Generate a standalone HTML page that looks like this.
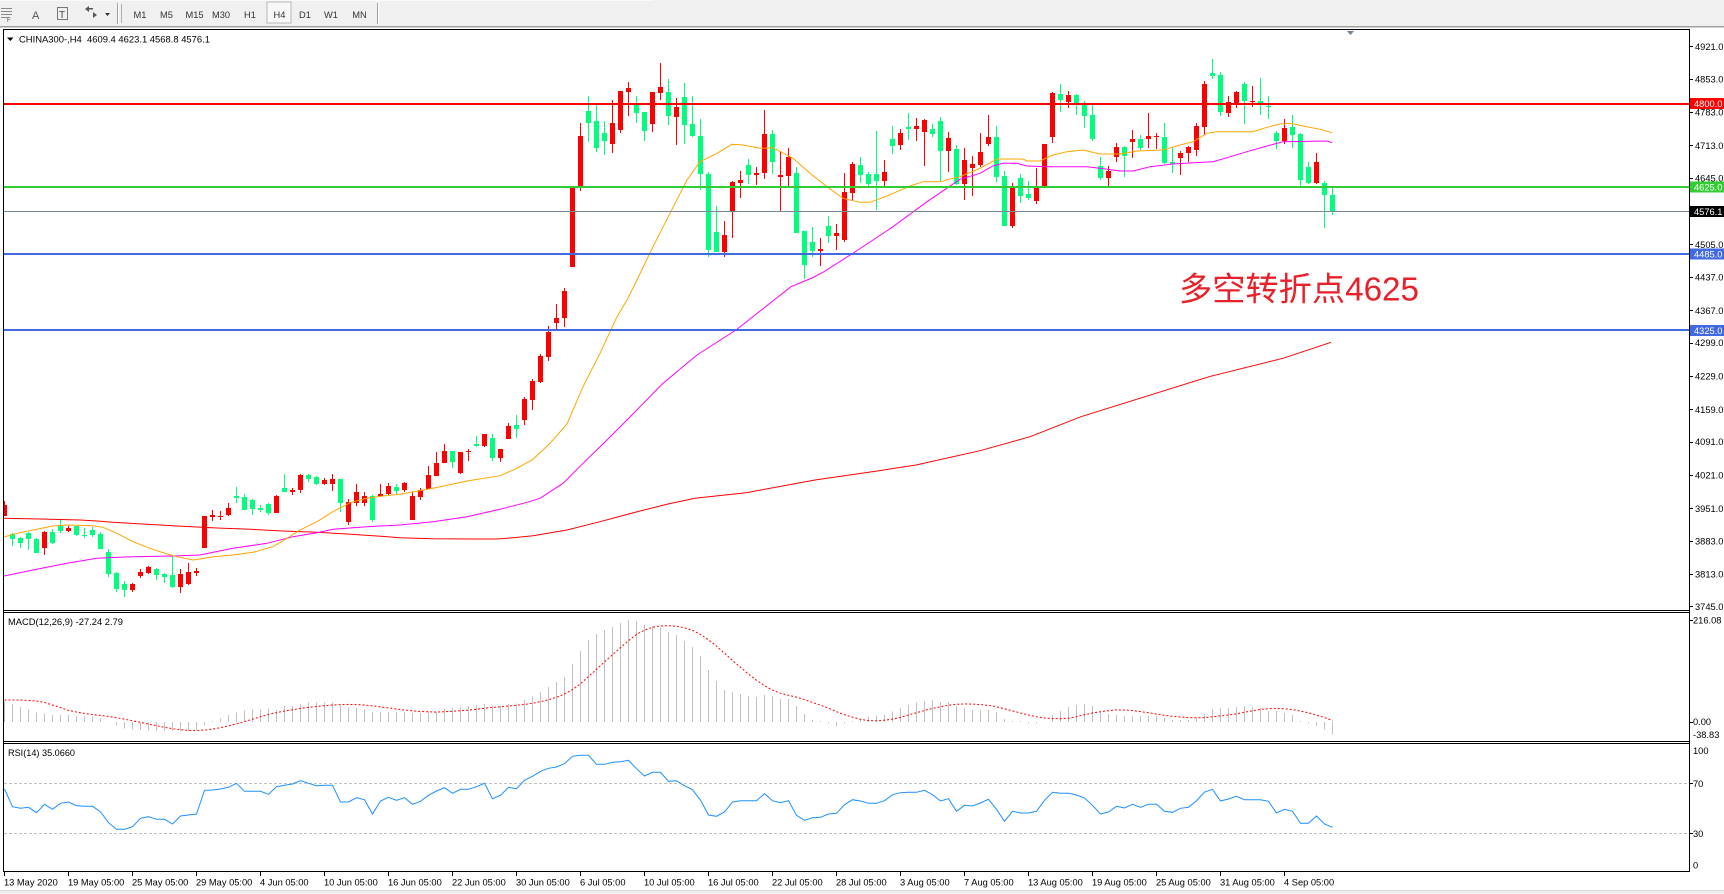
<!DOCTYPE html>
<html><head><meta charset="utf-8">
<style>
html,body{margin:0;padding:0;background:#fff;width:1724px;height:894px;overflow:hidden}
svg{display:block}
text{font-family:"Liberation Sans","DejaVu Sans",sans-serif}
</style></head><body>
<svg id="s" width="1724" height="894" viewBox="0 0 1724 894" xmlns="http://www.w3.org/2000/svg">
<defs>
<clipPath id="cm"><rect x="4" y="30" width="1685" height="580"/></clipPath>
<clipPath id="cd"><rect x="4" y="613" width="1685" height="128"/></clipPath>
<clipPath id="cr"><rect x="4" y="744" width="1685" height="127"/></clipPath>
</defs>
<!-- toolbar -->
<rect x="0" y="0" width="1724" height="26" fill="#F0F0F0"/>
<rect x="0" y="0" width="654" height="1" fill="#FAFAFA"/>
<rect x="0" y="26" width="1724" height="1" fill="#A0A0A0"/>
<rect x="0" y="27" width="1724" height="1" fill="#D0D0D0"/>
<g shape-rendering="crispEdges">
<rect x="1" y="8" width="11" height="1" fill="#8a8a8a"/>
<rect x="1" y="11" width="11" height="1" fill="#8a8a8a"/>
<rect x="1" y="14" width="11" height="1" fill="#8a8a8a"/>
<rect x="1" y="17" width="8" height="1" fill="#8a8a8a"/>
<rect x="57" y="7" width="11" height="1" fill="#777"/>
<rect x="57" y="19" width="11" height="1" fill="#777"/>
<rect x="57" y="7" width="1" height="13" fill="#777"/>
<rect x="67" y="7" width="1" height="13" fill="#777"/>
<rect x="117" y="3" width="1" height="21" fill="#A0A0A0"/>
<rect x="118" y="3" width="1" height="21" fill="#FFFFFF"/>
<rect x="121" y="4" width="1" height="19" fill="#B0B0B0"/>
<rect x="377" y="3" width="1" height="21" fill="#A0A0A0"/>
<rect x="378" y="3" width="1" height="21" fill="#FFFFFF"/>
<rect x="267" y="2" width="24" height="21" fill="#F8F8F8" stroke="#B8B8B8" stroke-width="1"/>
</g>
<text x="7" y="22" font-size="6" fill="#555">F</text>
<text x="32" y="19" font-size="11" fill="#555">A</text>
<text x="59" y="18" font-size="10" fill="#444">T</text>
<path d="M85 9 L89 6 L89 12 Z M97 15 L93 12 L93 18 Z" fill="#555"/>
<rect x="88" y="8" width="5" height="1.5" fill="#555"/>
<path d="M105 13 L110 13 L107.5 16 Z" fill="#333"/>
<g font-size="9.3" fill="#333" text-anchor="middle">
<text x="140" y="18">M1</text>
<text x="166.5" y="18">M5</text>
<text x="194.5" y="18">M15</text>
<text x="221" y="18">M30</text>
<text x="250" y="18">H1</text>
<text x="279.5" y="18">H4</text>
<text x="305" y="18">D1</text>
<text x="331" y="18">W1</text>
<text x="359.5" y="18">MN</text>
</g>

<!-- main chart content -->
<g clip-path="url(#cm)">
<g id="candles" shape-rendering="crispEdges"></g>
<g fill="none" stroke-width="1">
<polyline stroke="#FF0000" points="4,518.3 40,519 80,520 97,521 113,522.3 160,525 177,526 217,528 250,529.3 283,531 317,532.3 347,534 377,536 400,537.7 433,538.7 473,539 497,539 507,538.3 533,535.7 567,530 600,521.7 640,511 668,504 695,498.3 746,492.7 815,480 879,470.7 916,465 980,450.7 1030,436.7 1081,416.7 1145,396.7 1209,376.7 1283,358.3 1331,342.3"/>
<polyline stroke="#FF00FF" points="4,576 33,570 67,563.3 97,558.3 133,556.7 173,556 200,555 233,548.3 267,543.3 293,536.7 317,532.7 333,529.3 367,526.7 400,525 433,521.7 467,516.7 500,509.3 527,502.3 540,498.3 563,483.3 583,463.3 607,440 627,420 640,406.7 663,383.3 697,355 736,330 791,286.7 812,278 824,271.7 858,250 893,226.7 927,201.7 960,179.3 980,173.3 993,166 1003,163.3 1017,163.3 1027,166 1047,166.7 1087,166.7 1100,168.3 1120,171 1133,171 1150,166.7 1173,164 1193,162.7 1213,161.7 1227,157.7 1247,151.7 1267,146 1283,141.7 1327,141 1332,142.7"/>
<polyline stroke="#FFA500" points="4,537 13,534.3 33,530 53,526 67,525 93,525.7 103,527.3 117,533.3 133,541.7 150,548.3 167,554 177,556.7 193,560 200,559 213,556.7 233,555 253,552.3 273,546.7 287,538.3 300,530 317,521.7 333,511.7 350,502.7 367,498.3 383,496 400,494.3 433,488.3 467,481 500,475.7 517,468.3 533,459.3 550,443.3 567,424 583,386.7 600,353.3 617,316.7 627,300 637,280 653,246.7 670,213.3 687,180 700,161.7 717,153.3 732,144.3 743,145 760,148.3 773,147.7 793,158.3 810,173.3 827,186.7 843,198.3 860,202.3 870,202.3 887,196 910,186 923,181.7 940,181.7 953,178.3 960,176.7 980,168.3 997,159 1023,159 1027,161 1040,161 1053,155 1067,151.7 1083,150 1100,154 1120,154 1137,151 1163,150 1180,145 1193,141.7 1207,133.3 1217,131.7 1253,131.7 1267,127.3 1280,124 1290,123.3 1303,126 1320,129.3 1332,132.7"/>
</g>
<g shape-rendering="crispEdges">
<rect x="4" y="103" width="1685" height="2" fill="#FF0000"/>
<rect x="4" y="186" width="1685" height="2" fill="#32CD32"/>
<rect x="4" y="211" width="1685" height="1" fill="#778899"/>
<rect x="4" y="253" width="1685" height="2" fill="#4169E1"/>
<rect x="4" y="329" width="1685" height="2" fill="#4169E1"/>
</g>
</g>
<text x="1179" y="300.5" font-size="33" fill="#E8202A" textLength="240" lengthAdjust="spacingAndGlyphs" style="font-family:'Liberation Sans','Noto Sans CJK SC',sans-serif">多空转折点4625</text>
<path d="M1347 31 L1354 31 L1350.5 35 Z" fill="#708090"/>
<path d="M7 37.5 L13.5 37.5 L10.25 41 Z" fill="#000"/>
<text x="19" y="42.5" font-size="9.3" fill="#000" textLength="191" lengthAdjust="spacingAndGlyphs" style="white-space:pre">CHINA300-,H4  4609.4 4623.1 4568.8 4576.1</text>

<!-- MACD -->
<g clip-path="url(#cd)">
<g id="hist" shape-rendering="crispEdges"></g>
<polyline id="sig" fill="none" stroke="#FF0000" stroke-width="1" stroke-dasharray="2,2" points=""/>
</g>
<text x="8" y="625" font-size="9.3" fill="#000" textLength="115" lengthAdjust="spacingAndGlyphs">MACD(12,26,9) -27.24 2.79</text>

<!-- RSI -->
<g clip-path="url(#cr)">
<g shape-rendering="crispEdges">
<line x1="4" y1="783.5" x2="1689" y2="783.5" stroke="#C0C0C0" stroke-dasharray="3,2"/>
<line x1="4" y1="833.5" x2="1689" y2="833.5" stroke="#C0C0C0" stroke-dasharray="3,2"/>
</g>
<polyline id="rsi" fill="none" stroke="#1E90FF" stroke-width="1" points=""/>
</g>
<text x="8" y="756" font-size="9.3" fill="#000" textLength="67" lengthAdjust="spacingAndGlyphs">RSI(14) 35.0660</text>

<!-- frames -->
<g shape-rendering="crispEdges" fill="#000">
<rect x="3" y="29" width="1687" height="1"/>
<rect x="3" y="29" width="1" height="843"/>
<rect x="1689" y="29" width="1" height="843"/>
<rect x="3" y="610" width="1687" height="1"/>
<rect x="3" y="612" width="1687" height="1"/>
<rect x="3" y="741" width="1687" height="1"/>
<rect x="3" y="743" width="1687" height="1"/>
<rect x="3" y="871" width="1687" height="1"/>
</g>
<rect x="0" y="890" width="1724" height="4" fill="#F0F0F0"/>
<rect x="0" y="890" width="1724" height="1" fill="#D8D8D8"/>

<!-- price axis ticks -->
<g shape-rendering="crispEdges" stroke="#000" stroke-width="1">
<line x1="1689" y1="46.5" x2="1693" y2="46.5"/><line x1="1689" y1="79.5" x2="1693" y2="79.5"/>
<line x1="1689" y1="112.5" x2="1693" y2="112.5"/><line x1="1689" y1="145.5" x2="1693" y2="145.5"/>
<line x1="1689" y1="178.5" x2="1693" y2="178.5"/><line x1="1689" y1="244.5" x2="1693" y2="244.5"/>
<line x1="1689" y1="277.5" x2="1693" y2="277.5"/><line x1="1689" y1="310.5" x2="1693" y2="310.5"/>
<line x1="1689" y1="343.5" x2="1693" y2="343.5"/><line x1="1689" y1="376.5" x2="1693" y2="376.5"/>
<line x1="1689" y1="409.5" x2="1693" y2="409.5"/><line x1="1689" y1="442.5" x2="1693" y2="442.5"/>
<line x1="1689" y1="475.5" x2="1693" y2="475.5"/><line x1="1689" y1="508.5" x2="1693" y2="508.5"/>
<line x1="1689" y1="541.5" x2="1693" y2="541.5"/><line x1="1689" y1="574.5" x2="1693" y2="574.5"/>
<line x1="1689" y1="606.5" x2="1693" y2="606.5"/>
<line x1="1689" y1="620.5" x2="1693" y2="620.5"/><line x1="1689" y1="722.5" x2="1693" y2="722.5"/>
<line x1="1689" y1="783.5" x2="1693" y2="783.5"/><line x1="1689" y1="833.5" x2="1693" y2="833.5"/>
</g>
<g font-size="9.3" fill="#000">
<text x="1695" y="50">4921.0</text>
<text x="1695" y="82.4">4853.0</text>
<text x="1695" y="115.7">4783.0</text>
<text x="1695" y="149.1">4713.0</text>
<text x="1695" y="181.4">4645.0</text>
<text x="1695" y="248.1">4505.0</text>
<text x="1695" y="280.5">4437.0</text>
<text x="1695" y="313.8">4367.0</text>
<text x="1695" y="346.2">4299.0</text>
<text x="1695" y="379.5">4229.0</text>
<text x="1695" y="412.9">4159.0</text>
<text x="1695" y="445.2">4091.0</text>
<text x="1695" y="478.6">4021.0</text>
<text x="1695" y="511.9">3951.0</text>
<text x="1695" y="544.3">3883.0</text>
<text x="1695" y="577.6">3813.0</text>
<text x="1695" y="610">3745.0</text>
<text x="1693" y="623.5">216.08</text>
<text x="1693" y="725">0.00</text>
<text x="1693" y="738">-38.83</text>
<text x="1693" y="754">100</text>
<text x="1693" y="787">70</text>
<text x="1693" y="837">30</text>
<text x="1693" y="868.5">0</text>
</g>
<g shape-rendering="crispEdges">
<rect x="1690" y="98" width="34" height="11" fill="#FF0000"/>
<rect x="1690" y="181.5" width="34" height="11" fill="#32CD32"/>
<rect x="1690" y="206" width="34" height="11" fill="#000000"/>
<rect x="1690" y="248.5" width="34" height="11" fill="#4169E1"/>
<rect x="1690" y="325" width="34" height="11" fill="#4169E1"/>
</g>
<g font-size="9.3" fill="#FFFFFF">
<text x="1694" y="107">4800.0</text>
<text x="1694" y="190.5">4625.0</text>
<text x="1694" y="215">4576.1</text>
<text x="1694" y="257.5">4485.0</text>
<text x="1694" y="334">4325.0</text>
</g>

<!-- time axis -->
<g shape-rendering="crispEdges" stroke="#000">
<line x1="4.5" y1="872" x2="4.5" y2="876"/><line x1="68.5" y1="872" x2="68.5" y2="876"/>
<line x1="132.5" y1="872" x2="132.5" y2="876"/><line x1="196.5" y1="872" x2="196.5" y2="876"/>
<line x1="260.5" y1="872" x2="260.5" y2="876"/><line x1="324.5" y1="872" x2="324.5" y2="876"/>
<line x1="388.5" y1="872" x2="388.5" y2="876"/><line x1="452.5" y1="872" x2="452.5" y2="876"/>
<line x1="516.5" y1="872" x2="516.5" y2="876"/><line x1="580.5" y1="872" x2="580.5" y2="876"/>
<line x1="644.5" y1="872" x2="644.5" y2="876"/><line x1="708.5" y1="872" x2="708.5" y2="876"/>
<line x1="772.5" y1="872" x2="772.5" y2="876"/><line x1="836.5" y1="872" x2="836.5" y2="876"/>
<line x1="900.5" y1="872" x2="900.5" y2="876"/><line x1="964.5" y1="872" x2="964.5" y2="876"/>
<line x1="1028.5" y1="872" x2="1028.5" y2="876"/><line x1="1092.5" y1="872" x2="1092.5" y2="876"/>
<line x1="1156.5" y1="872" x2="1156.5" y2="876"/><line x1="1220.5" y1="872" x2="1220.5" y2="876"/>
<line x1="1284.5" y1="872" x2="1284.5" y2="876"/>
</g>
<g font-size="9.3" fill="#000">
<text x="4" y="885.5">13 May 2020</text>
<text x="68" y="885.5">19 May 05:00</text>
<text x="132" y="885.5">25 May 05:00</text>
<text x="196" y="885.5">29 May 05:00</text>
<text x="260" y="885.5">4 Jun 05:00</text>
<text x="324" y="885.5">10 Jun 05:00</text>
<text x="388" y="885.5">16 Jun 05:00</text>
<text x="452" y="885.5">22 Jun 05:00</text>
<text x="516" y="885.5">30 Jun 05:00</text>
<text x="580" y="885.5">6 Jul 05:00</text>
<text x="644" y="885.5">10 Jul 05:00</text>
<text x="708" y="885.5">16 Jul 05:00</text>
<text x="772" y="885.5">22 Jul 05:00</text>
<text x="836" y="885.5">28 Jul 05:00</text>
<text x="900" y="885.5">3 Aug 05:00</text>
<text x="964" y="885.5">7 Aug 05:00</text>
<text x="1028" y="885.5">13 Aug 05:00</text>
<text x="1092" y="885.5">19 Aug 05:00</text>
<text x="1156" y="885.5">25 Aug 05:00</text>
<text x="1220" y="885.5">31 Aug 05:00</text>
<text x="1284" y="885.5">4 Sep 05:00</text>
</g>
</svg>
<script>
(function(){
var NS="http://www.w3.org/2000/svg";
function el(t,a,p){var e=document.createElementNS(NS,t);for(var k in a)e.setAttribute(k,a[k]);p.appendChild(e);return e;}
function X(i){return 4.5+8*i;}
var D="r505 516 501 516,g534 539 533 546,g538 543 537 548,g533 539 532 550,g539 553 538 553,r532 548 531 555,g532 543 529 544,g525 531 520 533,r528 531 526 532,g526 535 526 536,g535 536 528 538,g530 535 527 537,g534 549 532 549,g552 574 549 577,g573 589 572 592,g584 590 581 597,r584 590 583 592,r572 576 569 578,r567 573 566 574,g569 575 568 580,g574 577 573 583,g575 587 556 588,r574 587 569 593,r572 584 563 585,r571 573 568 576,r516 548 516 548,r515 517 510 521,r516 517 511 520,r508 515 503 516,g496 498 487 503,g497 510 494 510,g500 509 499 515,g508 510 505 512,g504 513 503 515,r496 513 495 513,g488 492 474 492,r490 492 488 495,r475 490 474 493,g475 479 474 482,g477 484 476 485,r480 484 478 485,r479 484 474 491,g479 503 479 512,r502 522 499 525,r492 503 484 506,r496 503 492 506,g496 520 495 522,r494 496 484 497,r486 494 483 495,g487 491 484 495,r483 490 482 492,r496 520 492 520,r490 497 488 500,r475 489 466 489,r463 476 452 476,r451 463 444 463,g451 462 451 468,r452 473 452 474,r451 452 449 461,g444 446 436 447,r434 446 434 447,g438 458 434 461,r449 458 449 462,r426 439 423 439,g425 429 415 438,r399 420 397 425,r381 400 379 410,r356 382 354 383,r332 357 326 361,r318 323 304 329,r291 318 288 327,r187 267 187 267,r136 187 123 191,g111 123 96 142,g121 148 105 152,g133 141 121 155,r123 144 100 153,r91 130 91 133,r88 92 82 116,g104 113 96 123,g112 131 112 141,r92 124 92 132,r87 93 63 100,g92 116 79 125,r107 117 98 145,g97 125 83 144,g124 136 96 137,g136 174 119 190,g174 250 172 257,g232 252 206 252,r235 252 221 257,r182 212 181 238,r180 183 171 198,g165 175 159 184,r173 175 167 185,r134 173 110 179,g134 162 130 174,r175 177 151 211,r157 176 148 186,g173 233 167 233,g231 265 231 279,g242 251 227 257,r249 251 238 266,g226 236 216 243,r233 236 224 250,r192 240 173 242,r164 193 162 201,g165 175 157 183,g174 184 172 187,g174 181 131 210,r172 181 160 188,g139 146 126 154,r133 145 129 150,g127 129 113 140,r126 129 118 141,r120 132 119 166,g129 134 124 137,g121 151 117 181,r138 151 132 172,g149 184 145 185,r160 184 148 200,r164 168 156 196,r152 165 133 167,r137 144 115 146,g137 177 126 182,g176 226 171 226,r187 226 183 228,g178 196 174 203,g194 198 181 200,r188 201 168 204,r144 186 144 186,r93 137 92 143,g94 100 84 112,r95 102 91 108,g95 103 94 115,g104 116 101 128,g115 139 105 141,g166 178 157 180,r171 178 166 186,r147 157 143 162,g147 156 146 177,r139 142 130 158,g139 148 135 150,r136 139 113 148,r136 137 133 149,g137 163 123 164,g162 164 147 173,r153 158 151 175,r147 153 146 162,r126 150 123 156,r84 127 81 135,g73 76 59 79,g75 112 72 116,r102 113 96 117,r92 104 91 108,g84 101 82 124,r101 102 86 107,g101 103 78 115,g106 107 96 119,g133 141 131 149,r128 141 119 144,g127 135 115 148,g134 180 133 187,g167 183 162 184,r162 183 153 184,g183 195 181 228,g195 212 187 215";
var gC=document.getElementById("candles");
D.split(",").forEach(function(s,i){
  var col=s.charAt(0)=="r"?"#FF0000":"#00FF7F";
  var v=s.substring(1).split(" ").map(Number);
  var x=X(i);
  el("rect",{x:x-0.5,y:v[2],width:1,height:Math.max(1,v[3]-v[2]),fill:col},gC);
  el("rect",{x:x-2.5,y:v[0],width:5,height:Math.max(1,v[1]-v[0]),fill:col},gC);
});
var H=[701.7,704,707,709.7,712.7,713.3,715,715,715,716,716.7,716.7,718.3,721.7,725,728.3,729.3,730,730.7,731,731,731,731,731,730,725,721,718.3,715,712.3,710.7,709.3,709.3,708.3,710,706,
706,704,702.7,702.7,702.7,702.7,705.3,707.3,708,709.3,712,712,712,712,712,713,713,711.3,711.3,709,708,707,706,705,704,705.3,705.3,704,703.3,700,696.7,692,687,682,677,664,651,640,634,630,627,623,620,621,625,626,627,632,635,641,647,656,670,681,690,692,694,696,697,695,696,699,699,706,714,720,
721,723.7,726.3,723.7,721,718.7,716.7,715.7,714.7,711.7,708,705,702.7,701,700,702,702,706,708,710,710,710,712,719,721,721,723.7,723.7,722,715,711,707,705,704,706,712,714,715,716,716,716,716,716,718,720,720,720,718,714,709,708,708,707,706,707,708,711,711,713,715,721,723.7,726,729.7,734.7];
var Z=722;
var gH=document.getElementById("hist");
H.forEach(function(y,i){
  var x=X(i);var t=Math.min(y,Z),b=Math.max(y,Z);
  if(b-t<0.6) return;
  el("rect",{x:x-0.5,y:t,width:1,height:b-t,fill:"#C0C0C0"},gH);
});
var pre=[700,700,700,700.5,701,702.5,705,707.5];
var sp=[];
for(var i=0;i<H.length;i++){
  var y;
  if(i<8) y=pre[i]; else {var s=0;for(var j=i-8;j<=i;j++)s+=H[j];y=s/9;}
  sp.push(X(i).toFixed(1)+","+y.toFixed(1));
}
document.getElementById("sig").setAttribute("points",sp.join(" "));
var R=[789,806.7,808.3,807.3,812.7,804.3,809.3,803.3,802,805.7,806.3,806.3,811.7,822.7,829.3,829.3,826.7,818.3,816.7,819.3,819.3,824,816,815,814,790.3,790,789,787.3,783.3,791.3,791.3,791.3,794.3,786.7,785.3,
784,780.7,783.3,785.7,785.3,785.3,802,802,797.7,799.7,814,801,797.3,800.3,797.7,804.3,801.3,795.3,791,787.7,793.3,789.3,789.3,786.7,783.3,798.7,795.3,787.3,788.7,780.3,776.3,771.3,768.3,767,763.7,756.3,755.3,755.3,764.3,764.3,762.3,761.7,760.3,768.7,776,772.3,772.3,781.3,780.7,785.7,789.7,800.3,815,816.3,812,802,800.7,800.7,800.7,793.7,800.7,802.7,800.7,815.3,820.3,817.7,
817.3,814,813.3,804.7,799.7,801,803.3,803.3,800.7,794.7,792.7,792.3,792.3,790.3,794.7,801,798.7,811.3,805.3,806,803,799.3,809.3,821.3,811.3,813,813,811.3,800.3,792.3,793.3,793.3,795,798,805.3,814,812,806.3,808,804.3,807.3,804.3,804.3,811.3,812.3,808.3,807.3,800.7,792,789.3,801,799,796.3,799.7,799.7,799.7,801.3,813,809.3,811.3,823.3,823.3,816,824,827.3];
var rp=[];
R.forEach(function(y,i){rp.push(X(i).toFixed(1)+","+y);});
document.getElementById("rsi").setAttribute("points",rp.join(" "));
})();
</script>
</body></html>
